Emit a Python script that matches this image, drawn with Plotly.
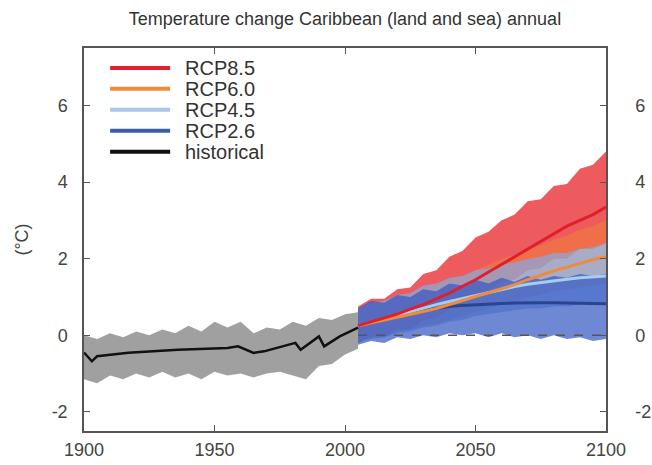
import plotly.graph_objects as go

# ---- data (°C anomaly) ----
hist_years = [1900, 1905, 1910, 1915, 1920, 1925, 1930, 1935, 1940, 1945, 1950,
              1955, 1960, 1965, 1970, 1975, 1980, 1985, 1990, 1995, 2000, 2005]
hist_upper = [0.0, -0.1, 0.05, -0.05, 0.1, 0.0, 0.15, 0.05, 0.25, 0.1, 0.35,
              0.2, 0.35, 0.05, 0.2, 0.15, 0.35, 0.25, 0.45, 0.4, 0.55, 0.6]
hist_lower = [-1.15, -1.25, -1.05, -1.15, -1.0, -1.1, -0.95, -1.1, -1.0, -1.15, -0.95,
              -1.05, -1.0, -1.1, -1.0, -0.95, -1.05, -1.15, -0.8, -0.75, -0.5, -0.35]

hist_mean_years = [1900, 1903, 1905, 1917, 1936, 1955, 1959, 1965, 1969, 1981,
                   1983, 1990, 1992, 1998, 2005]
hist_mean = [-0.45, -0.68, -0.55, -0.46, -0.38, -0.33, -0.29, -0.46, -0.42, -0.2,
             -0.38, -0.03, -0.29, -0.03, 0.2]

proj_years = [2005, 2010, 2015, 2020, 2025, 2030, 2035, 2040, 2045, 2050,
              2055, 2060, 2065, 2070, 2075, 2080, 2085, 2090, 2095, 2100]

rcp85_upper = [0.75, 0.95, 0.95, 1.2, 1.25, 1.6, 1.7, 2.05, 2.2, 2.55,
               2.7, 3.0, 3.15, 3.5, 3.55, 3.9, 3.95, 4.35, 4.45, 4.8]
rcp85_lower = [-0.2, -0.05, -0.05, 0.15, 0.15, 0.4, 0.45, 0.7, 0.8, 1.05,
               1.15, 1.4, 1.45, 1.7, 1.75, 2.0, 2.0, 2.25, 2.25, 2.4]
rcp85_mean = [0.25, 0.35, 0.45, 0.55, 0.68, 0.8, 0.95, 1.1, 1.28, 1.45,
              1.65, 1.85, 2.05, 2.25, 2.45, 2.65, 2.85, 3.0, 3.15, 3.35]

rcp60_upper = [0.65, 0.8, 0.85, 0.95, 1.05, 1.2, 1.3, 1.45, 1.55, 1.7,
               1.85, 2.0, 2.1, 2.25, 2.35, 2.5, 2.6, 2.75, 2.85, 3.0]
rcp60_lower = [-0.15, -0.05, 0.0, 0.1, 0.15, 0.25, 0.3, 0.4, 0.5, 0.6,
               0.7, 0.8, 0.9, 1.0, 1.05, 1.15, 1.2, 1.25, 1.3, 1.35]
rcp60_mean = [0.25, 0.32, 0.4, 0.47, 0.55, 0.62, 0.7, 0.8, 0.9, 1.0,
              1.1, 1.2, 1.32, 1.45, 1.57, 1.68, 1.78, 1.88, 1.97, 2.05]

rcp45_upper = [0.7, 0.85, 0.9, 1.05, 1.1, 1.3, 1.35, 1.5, 1.55, 1.7,
               1.75, 1.85, 1.9, 2.0, 2.05, 2.15, 2.15, 2.25, 2.3, 2.4]
rcp45_lower = [-0.2, -0.1, -0.05, 0.05, 0.1, 0.2, 0.25, 0.35, 0.4, 0.5,
               0.55, 0.6, 0.65, 0.7, 0.7, 0.75, 0.75, 0.8, 0.8, 0.85]
rcp45_mean = [0.25, 0.33, 0.42, 0.52, 0.62, 0.72, 0.8, 0.88, 0.96, 1.04,
              1.12, 1.2, 1.27, 1.33, 1.38, 1.42, 1.46, 1.5, 1.53, 1.55]

rcp26_upper = [0.7, 0.9, 0.85, 1.05, 1.0, 1.2, 1.15, 1.35, 1.3, 1.45,
               1.35, 1.5, 1.4, 1.55, 1.45, 1.55, 1.5, 1.6, 1.55, 1.6]
rcp26_lower = [-0.25, -0.15, -0.2, -0.05, -0.1, 0.0, -0.05, 0.05, 0.0, 0.05,
               -0.05, 0.05, -0.05, 0.0, -0.1, 0.0, -0.1, -0.05, -0.15, -0.1]
rcp26_mean = [0.25, 0.33, 0.42, 0.5, 0.58, 0.65, 0.7, 0.75, 0.78, 0.8,
              0.82, 0.83, 0.84, 0.85, 0.85, 0.85, 0.84, 0.84, 0.83, 0.82]

y_ticks = [-2, 0, 2, 4, 6]
y_tick_text = ["-2", "0", "2", "4", "6"]
x_ticks = [1900, 1950, 2000, 2050, 2100]

legend_names = ["RCP8.5", "RCP6.0", "RCP4.5", "RCP2.6", "historical"]
legend_colors = ["#e0202e", "#f0893a", "#a9c6ea", "#3d5ca8", "#111111"]

FONT = "Liberation Sans, Arial, sans-serif"
AXIS_COL = "#555555"


def band(years, upper, lower, fill):
    return go.Scatter(
        x=years + years[::-1],
        y=upper + lower[::-1],
        fill="toself",
        fillcolor=fill,
        line=dict(width=0),
        mode="lines",
        hoverinfo="skip",
        showlegend=False,
    )


def mean_line(years, values, color, width=3):
    return go.Scatter(
        x=years, y=values, mode="lines",
        line=dict(color=color, width=width),
        showlegend=False,
    )


fig = go.Figure()

# ensemble spreads
fig.add_trace(band(hist_years, hist_upper, hist_lower, "rgba(128,128,128,0.75)"))
fig.add_trace(band(proj_years, rcp85_upper, rcp85_lower, "rgba(232,45,50,0.78)"))
fig.add_trace(band(proj_years, rcp60_upper, rcp60_lower, "rgba(240,125,60,0.6)"))
fig.add_trace(band(proj_years, rcp45_upper, rcp45_lower, "rgba(135,170,225,0.7)"))
fig.add_trace(band(proj_years, rcp26_upper, rcp26_lower, "rgba(55,90,195,0.72)"))

# zero reference
fig.add_shape(type="line", xref="x", yref="y", x0=proj_years[0], x1=proj_years[-1],
              y0=0, y1=0, line=dict(color="#555555", width=1.5, dash="dash"))

# ensemble means
fig.add_trace(mean_line(proj_years, rcp26_mean, "#2a4590"))
fig.add_trace(mean_line(proj_years, rcp45_mean, "#a6cdee"))
fig.add_trace(mean_line(proj_years, rcp60_mean, "#f08a3c"))
fig.add_trace(mean_line(proj_years, rcp85_mean, "#e01f2c"))
fig.add_trace(mean_line(hist_mean_years, hist_mean, "#111111", width=2.5))

# dummy trace so the right-hand axis is drawn
fig.add_trace(go.Scatter(x=[hist_years[0]], y=[0], yaxis="y2", mode="markers",
                         marker=dict(opacity=0), showlegend=False, hoverinfo="skip"))

# hand-drawn legend (long line samples like the original)
for i, (name, col) in enumerate(zip(legend_names, legend_colors)):
    yy = 0.948 - i * 0.0547
    fig.add_shape(type="line", xref="paper", yref="paper",
                  x0=0.05, x1=0.165, y0=yy, y1=yy,
                  line=dict(color=col, width=4))
    fig.add_annotation(xref="paper", yref="paper", x=0.19, y=yy, text=name,
                       showarrow=False, xanchor="left", yanchor="middle",
                       font=dict(family=FONT, size=20, color="#333333"))

axis_common = dict(
    showline=True, linecolor=AXIS_COL, linewidth=1.5,
    ticks="inside", ticklen=6, tickcolor=AXIS_COL, tickwidth=1.2,
    showgrid=False, zeroline=False, automargin=False,
    tickfont=dict(family=FONT, size=18, color="#444444"),
)

fig.update_layout(
    width=652, height=465,
    paper_bgcolor="white", plot_bgcolor="white",
    margin=dict(l=84, r=46, t=48, b=34),
    title=dict(text="Temperature change Caribbean (land and sea) annual",
               x=0.5, xref="paper", y=0.959, yanchor="middle",
               font=dict(family=FONT, size=18, color="#333333")),
    xaxis=dict(range=[1900, 2100], tickvals=x_ticks, mirror="ticks",
               ticklabelstandoff=2, **axis_common),
    yaxis=dict(range=[-2.5, 7.5], tickvals=y_ticks, ticktext=y_tick_text,
               mirror=True, ticklabelstandoff=11,
               title=dict(text="(°C)", standoff=18,
                          font=dict(family=FONT, size=18, color="#444444")),
               **axis_common),
    yaxis2=dict(range=[-2.5, 7.5], tickvals=y_ticks, ticktext=y_tick_text,
                overlaying="y", side="right", ticklabelstandoff=24,
                **axis_common),
    showlegend=False,
)

# drop the browser's default 8px body margin so the figure sits at the window origin
fig.write_html("out.html", config={"displayModeBar": False},
               post_script="document.body.style.margin='0';")
